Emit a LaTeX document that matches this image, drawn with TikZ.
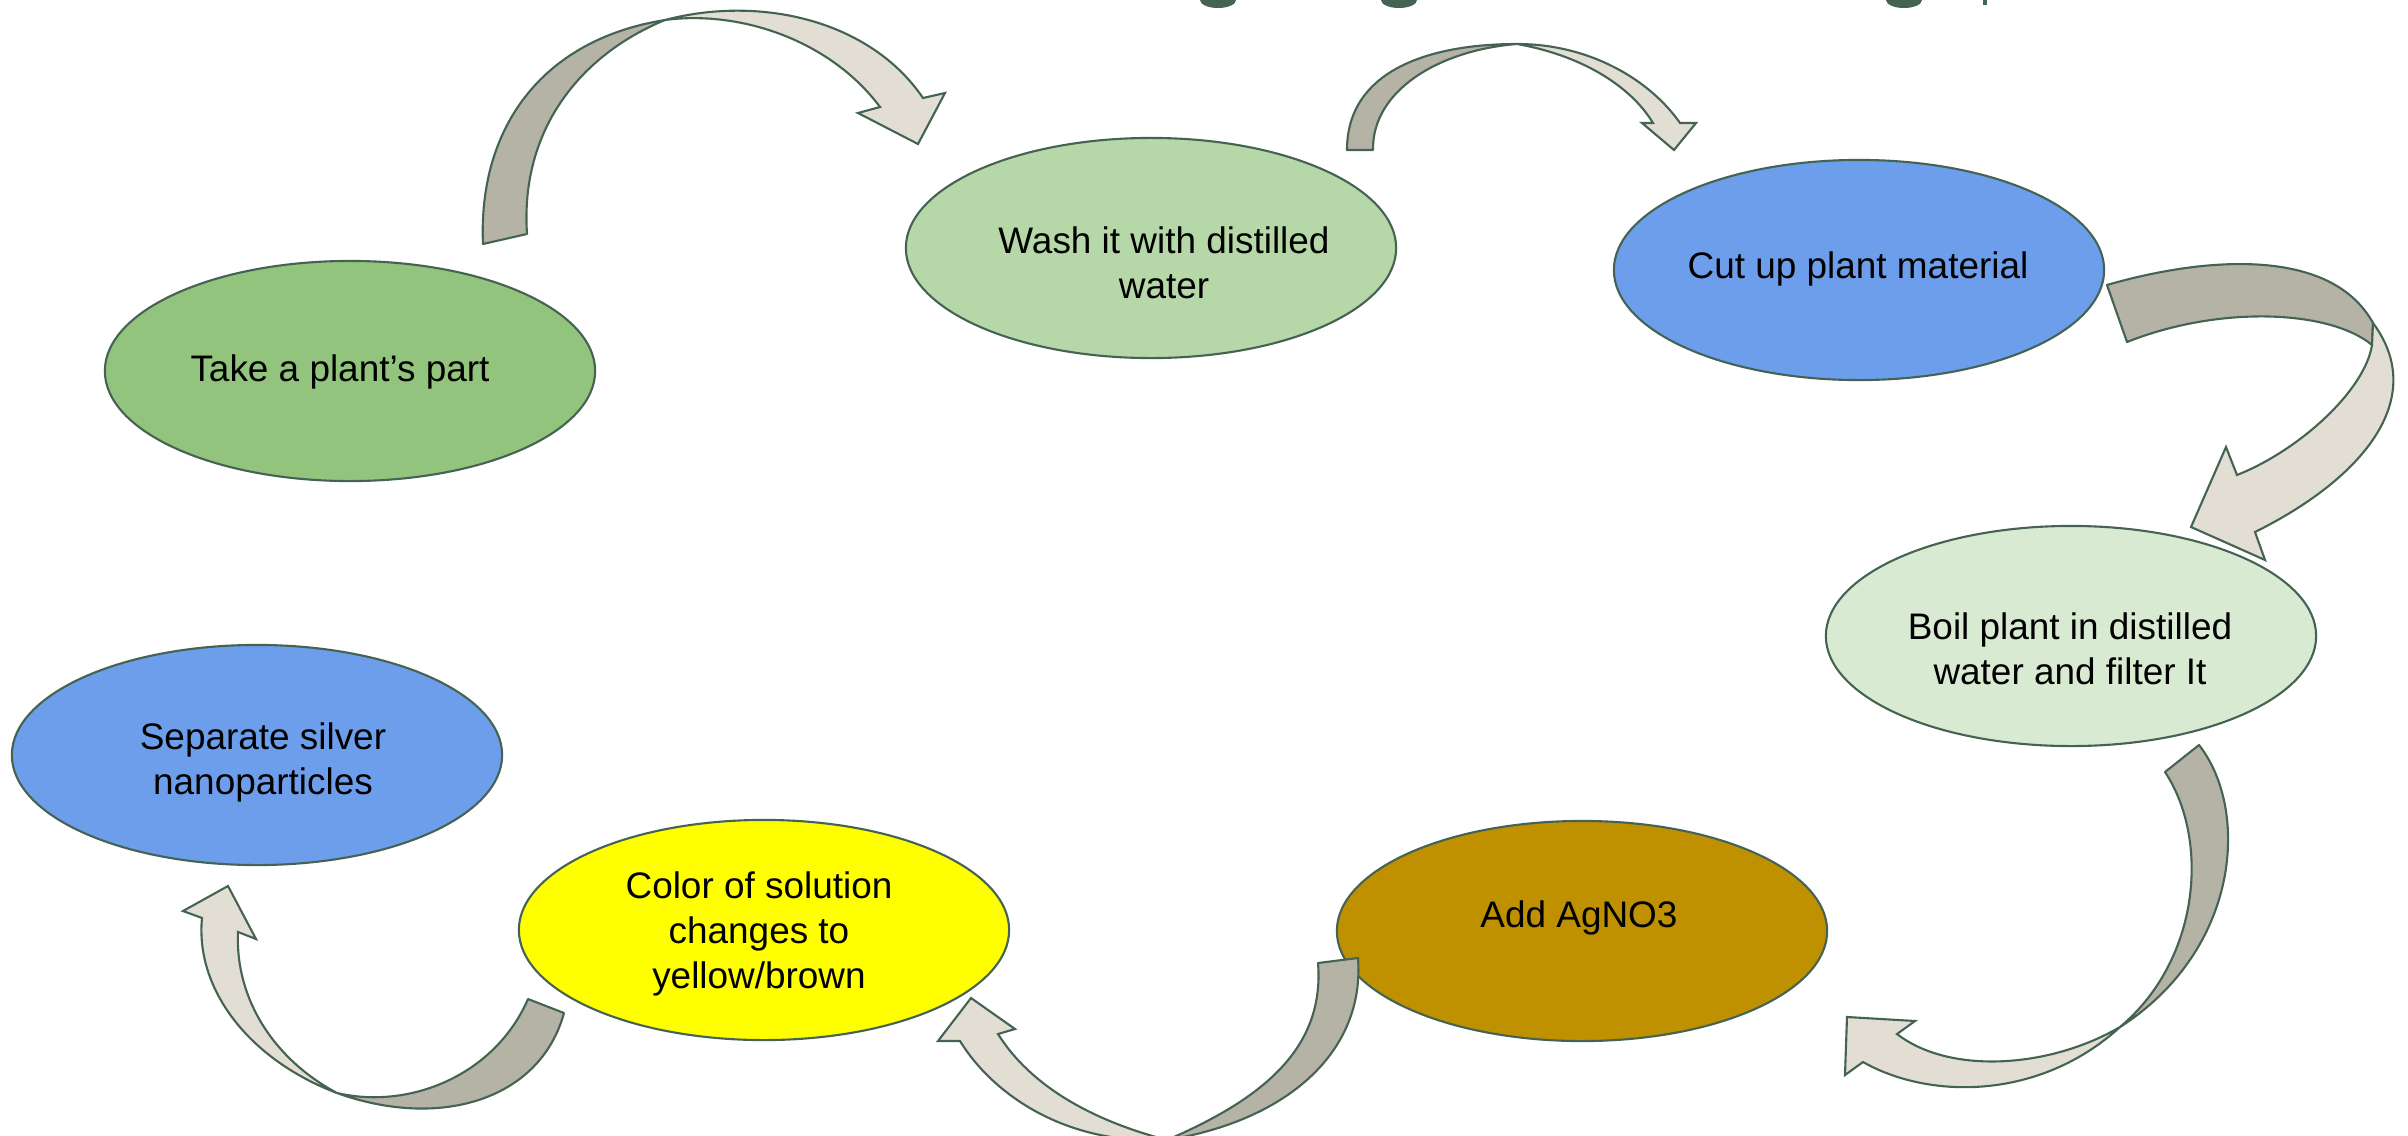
\documentclass[tikz,border=0pt]{standalone}
\usepackage{fontspec}
\setmainfont{Liberation Sans}
\usetikzlibrary{shapes.geometric}
\definecolor{edge}{RGB}{69,99,83}
\definecolor{arrowdark}{RGB}{181,178,166}
\definecolor{arrowlight}{RGB}{227,222,211}
\definecolor{cTake}{HTML}{93C47D}
\definecolor{cWash}{HTML}{B6D7A8}
\definecolor{cCut}{HTML}{6D9EEB}
\definecolor{cBoil}{HTML}{D9EAD3}
\definecolor{cAdd}{HTML}{BF9000}
\definecolor{cColor}{HTML}{FFFF00}
\definecolor{cSep}{HTML}{6D9EEB}
\begin{document}
\begin{tikzpicture}[x=0.01cm,y=-0.01cm,
  stage/.style={ellipse, draw=edge, line width=0.6pt, minimum width=4.9cm, minimum height=2.2cm, inner sep=0pt},
  lbl/.style={align=center, font=\fontsize{10.5}{12.8}\selectfont, text=black, inner sep=0pt},
  back/.style={fill=arrowdark, draw=edge, line width=0.6pt, line join=round},
  front/.style={fill=arrowlight, draw=edge, line width=0.6pt, line join=miter},
  titlefrag/.style={fill=edge}]
\useasboundingbox (0,0) rectangle (2408,1136);
\fill[white] (0,0) rectangle (2408,1136);

% cut-off title fragments
\fill[titlefrag] (1218,0) ellipse [x radius=18, y radius=8];
\fill[titlefrag] (1399,0) ellipse [x radius=18, y radius=8];
\fill[titlefrag] (1904,0) ellipse [x radius=18, y radius=8];
\fill[titlefrag] (1983,0) rectangle (1987,5);

% stages
\node[stage, fill=cTake]  (take)  at (350,371)  {};
\node[stage, fill=cWash]  (wash)  at (1151,248) {};
\node[stage, fill=cCut]   (cut)   at (1859,270) {};
\node[stage, fill=cBoil]  (boil)  at (2071,636) {};
\node[stage, fill=cAdd]   (add)   at (1582,931) {};
\node[stage, fill=cColor] (color) at (764,930)  {};
\node[stage, fill=cSep]   (sep)   at (257,755)  {};

\node[lbl] (takeT)  at (340,372)  {Take a plant’s part};
\node[lbl] (washT)  at (1164,263) {Wash it with distilled\\water};
\node[lbl] (cutT)   at (1858,269) {Cut up plant material};
\node[lbl] (boilT)  at (2070,649) {Boil plant in distilled\\water and filter It};
\node[lbl] (addT)   at (1579,918) {Add AgNO3};
\node[lbl] (colorT) at (759,934)  {Color of solution\\changes to\\yellow/brown};
\node[lbl] (sepT)   at (263,762)  {Separate silver\\nanoparticles};

% arrow 1: take -> wash
\draw[back] (483,244) .. controls (478,130) and (540,40) .. (665,20)
  .. controls (580,55) and (520,130) .. (527,234) -- cycle;
\draw[front] (665,20) .. controls (760,-5) and (870,20) .. (923,98)
  -- (945,93) -- (918,144) -- (858,113) -- (880,107)
  .. controls (830,40) and (740,10) .. (665,20) -- cycle;

% arrow 2: wash -> cut
\draw[back] (1347,150) .. controls (1347,70) and (1430,44) .. (1517,44)
  .. controls (1440,50) and (1372,90) .. (1373,150) -- cycle;
\draw[front] (1517,44) .. controls (1590,44) and (1650,80) .. (1680,123)
  -- (1696,123) -- (1674,150) -- (1642,123) -- (1653,123)
  .. controls (1630,85) and (1580,55) .. (1517,44) -- cycle;

% arrow 3: cut -> boil
\draw[back] (2107,285) .. controls (2200,258) and (2330,245) .. (2373,323)
  -- (2372,345)
  .. controls (2330,310) and (2220,305) .. (2127,342) -- cycle;
\draw[front] (2373,323) .. controls (2430,400) and (2360,480) .. (2255,532)
  -- (2265,560) -- (2191,527) -- (2226,447) -- (2237,475)
  .. controls (2300,450) and (2365,390) .. (2372,345) -- cycle;

% arrow 4: boil -> add
\draw[back] (2199,745) .. controls (2250,810) and (2240,950) .. (2120,1027)
  .. controls (2200,960) and (2210,840) .. (2165,772) -- cycle;
\draw[front] (2120,1027) .. controls (2040,1100) and (1930,1100) .. (1863,1062)
  -- (1845,1075) -- (1847,1017) -- (1915,1021) -- (1897,1034)
  .. controls (1950,1075) and (2050,1068) .. (2120,1027) -- cycle;

% arrow 5: add -> color
\draw[back] (1358,958) .. controls (1365,1050) and (1290,1120) .. (1167,1140)
  .. controls (1260,1100) and (1325,1050) .. (1318,963) -- cycle;
\draw[front] (1167,1140) .. controls (1060,1145) and (990,1090) .. (960,1041)
  -- (938,1041) -- (971,998) -- (1015,1029) -- (998,1034)
  .. controls (1030,1085) and (1090,1120) .. (1167,1140) -- cycle;

% arrow 6: color -> sep
\draw[back] (564,1013) .. controls (540,1100) and (440,1130) .. (337,1093)
  .. controls (410,1110) and (495,1075) .. (528,999) -- cycle;
\draw[front] (337,1093) .. controls (250,1060) and (195,990) .. (202,918)
  -- (183,911) -- (228,886) -- (256,939) -- (238,932)
  .. controls (235,1000) and (275,1060) .. (337,1093) -- cycle;
\end{tikzpicture}
\end{document}
